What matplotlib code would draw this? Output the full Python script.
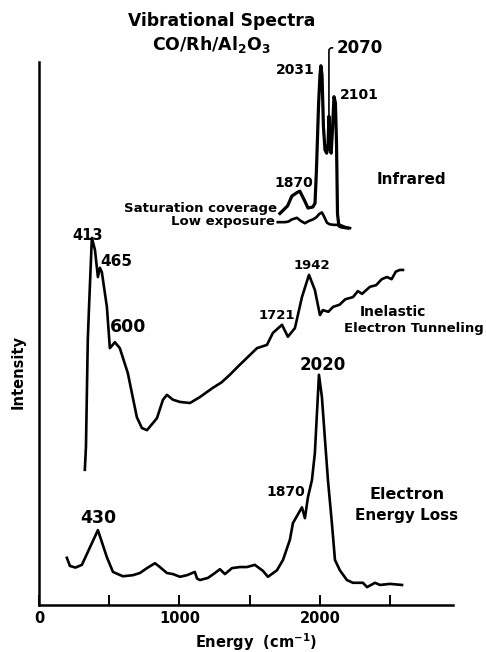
import matplotlib.pyplot as plt
import numpy as np

plt.rcParams['font.family'] = 'DejaVu Sans'
plt.rcParams['font.weight'] = 'bold'
plt.rcParams['mathtext.default'] = 'bf'

# Electron energy loss spectrum (energy cm^-1, intensity arb.)
eels_x = np.array([199, 221, 260, 306, 420, 484, 527, 562, 598, 669, 719, 769, 826, 861, 911,
                   954, 1004, 1054, 1110, 1125, 1146, 1203, 1253, 1288, 1324, 1374, 1431, 1480,
                   1537, 1594, 1630, 1694, 1737, 1786, 1808, 1872, 1893, 1915, 1943, 1964,
                   1993, 2014, 2036, 2057, 2085, 2107, 2142, 2192, 2235, 2306, 2335, 2392,
                   2427, 2498, 2584])
eels_y = np.array([8.7, 7.2, 6.9, 7.4, 13.8, 8.8, 6.1, 5.7, 5.3, 5.5, 5.9, 6.8, 7.7, 7.0, 5.9,
                   5.7, 5.2, 5.5, 6.1, 4.9, 4.6, 5.0, 5.9, 6.6, 5.7, 6.8, 7.0, 7.0,
                   7.4, 6.3, 5.2, 6.4, 8.3, 12.0, 15.1, 18.0, 16.0, 19.9, 23.0, 28.0,
                   42.4, 38.3, 30.4, 23.0, 15.1, 8.3, 6.4, 4.6, 4.1, 4.1, 3.3, 4.1,
                   3.7, 3.9, 3.7])

# Inelastic electron tunneling spectrum
iets_x = np.array([327, 335, 348, 356, 377, 399, 420, 434, 448, 484, 505, 541, 576, 633, 697,
                   733, 769, 840, 883, 911, 954, 1004, 1075, 1146, 1238, 1300, 1359, 1420,
                   1480, 1552, 1623, 1665, 1730, 1772, 1822, 1872, 1922, 1964, 2000, 2021,
                   2060, 2093, 2140, 2180, 2235, 2270, 2300, 2356, 2400, 2440, 2477, 2510,
                   2540, 2569, 2591])
iets_y = np.array([24.9, 29.1, 48.8, 54.3, 67.6, 65.4, 60.4, 62.1, 61.3, 54.9, 47.3, 48.4, 47.3,
                   42.7, 34.6, 32.6, 32.2, 34.4, 37.8, 38.7, 37.8, 37.4, 37.2, 38.3, 40.0,
                   41.0, 42.4, 44.0, 45.5, 47.3, 47.9, 50.1, 51.6, 49.4, 51.0, 56.7, 60.8,
                   58.0, 53.4, 54.3, 54.0, 54.9, 55.3, 56.3, 56.7, 57.8, 57.3, 58.6, 58.9,
                   60.0, 60.4, 60.0, 61.4, 61.7, 61.7])

# Infrared, saturation coverage
ir_sat_x = np.array([1715, 1770, 1800, 1840, 1857, 1890, 1915, 1950, 1965, 1975, 1990, 2000,
                     2007, 2015, 2025, 2036, 2048, 2058, 2064, 2070, 2080, 2090, 2100, 2110,
                     2118, 2125, 2135, 2150, 2199])
ir_sat_y = np.array([72.1, 73.5, 75.3, 76.0, 76.2, 74.5, 73.1, 73.3, 74.0, 80.0, 92.0, 97.5,
                     99.3, 97.5, 88.0, 83.8, 83.2, 85.0, 90.0, 84.0, 83.2, 88.0, 93.6, 92.5,
                     85.0, 72.0, 69.8, 69.6, 69.4])

# Infrared, low exposure
ir_low_x = np.array([1700, 1750, 1775, 1800, 1836, 1865, 1893, 1920, 1950, 1975, 1995, 2014,
                     2030, 2050, 2070, 2100, 2142, 2180, 2214])
ir_low_y = np.array([70.5, 70.5, 70.6, 71.0, 71.3, 70.7, 70.3, 70.7, 71.0, 71.4, 72.0, 72.3,
                     71.5, 70.4, 70.1, 70.0, 70.0, 69.6, 69.4])

x_ticks = [0, 500, 1000, 1500, 2000, 2500]
x_ticklabels = ['0', '', '1000', '', '2000', '']

fig = plt.figure(figsize=(4.86, 6.52), dpi=100)
ax = fig.add_axes([0.080, 0.072, 0.853, 0.833])

lw = 1.9
ax.plot(eels_x, eels_y, c='k', lw=lw)
ax.plot(iets_x, iets_y, c='k', lw=lw)
ax.plot(ir_sat_x, ir_sat_y, c='k', lw=2.3)
ax.plot(ir_low_x, ir_low_y, c='k', lw=lw)

ax.set_xlim(0, 2950)
ax.set_ylim(0, 100)
for s in ['top', 'right']:
    ax.spines[s].set_visible(False)
for s in ['left', 'bottom']:
    ax.spines[s].set_linewidth(1.8)
ax.set_yticks([])
ax.set_xticks(x_ticks)
ax.set_xticklabels(x_ticklabels, size=10.5, weight='bold')
ax.tick_params(axis='x', direction='in', length=7, width=1.4, pad=4)

fs = 10
kw = dict(ha='center', va='center', size=fs, weight='bold', clip_on=False)
ax.text(1302, 107.5, 'Vibrational Spectra', **dict(kw, size=12.3))
ax.text(1231, 103.3, r'CO/Rh/Al$_2$O$_3$', **dict(kw, size=12.5))

# infrared labels
ax.text(1964, 98.5, '2031', **kw)
ax.texts[-1].set_ha('right')
ax.annotate('2070', xy=(2064, 86), xytext=(2120, 102.6), ha='left', va='center',
            size=12, weight='bold', annotation_clip=False,
            arrowprops=dict(arrowstyle='-', lw=1.2, shrinkA=1, shrinkB=0,
                            connectionstyle='angle,angleA=0,angleB=90,rad=3'))
ax.text(2142, 93.9, '2101', **dict(kw, ha='left'))
ax.text(1815, 77.7, '1870', **kw)
ax.text(2406, 78.3, 'Infrared', **dict(kw, ha='left', size=11))
ax.text(1694, 73.1, 'Saturation coverage', **dict(kw, ha='right', size=9.5))
ax.text(1680, 70.7, 'Low exposure', **dict(kw, ha='right', size=9.5))

# tunneling labels
ax.text(349, 68.0, '413', **dict(kw, size=10.5))
ax.text(548, 63.2, '465', **dict(kw, size=11))
ax.text(633, 51.2, '600', **dict(kw, size=12.5))
ax.text(1694, 53.4, '1721', **dict(kw, size=9.5))
ax.text(1943, 62.6, '1942', **dict(kw, size=9.5))
ax.text(2520, 54.0, 'Inelastic', **kw)
ax.text(2670, 51.0, 'Electron Tunneling', **dict(kw, size=9.5))

# energy loss labels
ax.text(2021, 44.2, '2020', **dict(kw, size=12))
ax.text(1758, 20.8, '1870', **kw)
ax.text(420, 16.0, '430', **dict(kw, size=12.5))
ax.text(2619, 20.3, 'Electron', **dict(kw, size=11.5))
ax.text(2619, 16.4, 'Energy Loss', **dict(kw, size=11))

ax.text(0.5235, -0.068, r'Energy  (cm$^{-1}$)', transform=ax.transAxes,
        ha='center', va='center', size=10.5, weight='bold')
ax.text(-0.05, 0.43, 'Intensity', transform=ax.transAxes, rotation=90,
        ha='center', va='center', size=10.5, weight='bold')

plt.savefig('out.png', dpi=100)
